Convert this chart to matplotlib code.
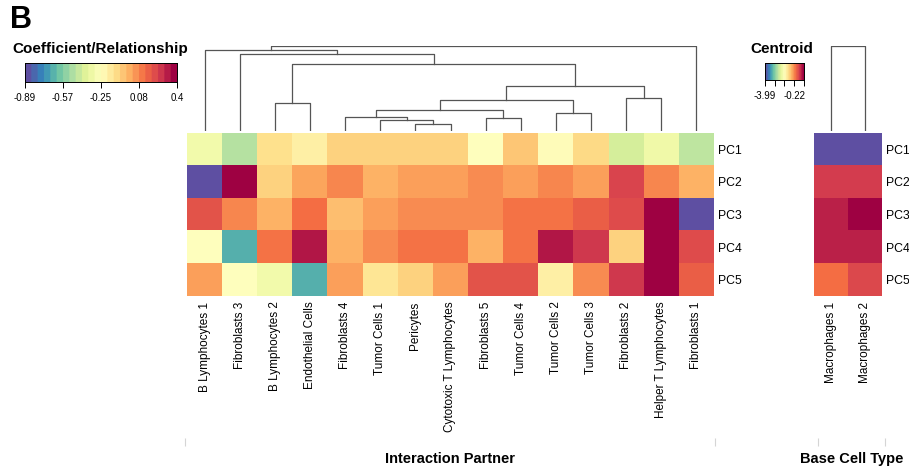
import numpy as np
import matplotlib
matplotlib.use('Agg')
import matplotlib.pyplot as plt

plt.rcParams['font.family'] = ['Liberation Sans', 'DejaVu Sans']

partners = ['B Lymphocytes 1', 'Fibroblasts 3', 'B Lymphocytes 2', 'Endothelial Cells',
            'Fibroblasts 4', 'Tumor Cells 1', 'Pericytes', 'Cytotoxic T Lymphocytes',
            'Fibroblasts 5', 'Tumor Cells 4', 'Tumor Cells 2', 'Tumor Cells 3',
            'Fibroblasts 2', 'Helper T Lymphocytes', 'Fibroblasts 1']
base_types = ['Macrophages 1', 'Macrophages 2']
pcs = ['PC1', 'PC2', 'PC3', 'PC4', 'PC5']

# coefficient per principal component (rows) and interaction partner (columns)
coef = [
    [-0.31, -0.48, -0.12, -0.18, -0.08, -0.08, -0.08, -0.08, -0.24, -0.05, -0.23, -0.10, -0.41, -0.32, -0.46],
    [-0.89, 0.40, -0.08, 0.03, 0.09, 0.00, 0.04, 0.04, 0.08, 0.04, 0.09, 0.04, 0.25, 0.09, 0.00],
    [0.21, 0.09, 0.00, 0.14, -0.03, 0.04, 0.08, 0.08, 0.08, 0.13, 0.13, 0.18, 0.23, 0.40, -0.89],
    [-0.24, -0.67, 0.13, 0.35, 0.00, 0.08, 0.13, 0.13, 0.00, 0.13, 0.35, 0.28, -0.08, 0.40, 0.23],
    [0.04, -0.24, -0.31, -0.67, 0.04, -0.14, -0.08, 0.04, 0.21, 0.21, -0.18, 0.08, 0.28, 0.40, 0.18],
]
coef_min, coef_max = -0.89, 0.40
coef_ticklabels = ['-0.89', '-0.57', '-0.25', '0.08', '0.4']

centroid = [
    [-3.99, -3.99],
    [0.53, 0.53],
    [0.78, 1.04],
    [0.78, 0.78],
    [0.03, 0.43],
]
cent_min, cent_max = -3.99, 1.04
cent_ticklabels = ['-3.99', '', '', '-0.22', '']

# hierarchical clustering of partners: (left node, right node, height)
# leaves are 0..14, merged nodes are numbered from 15 on
merges = [
    (6, 7, 19), (5, 15, 31), (4, 16, 41), (8, 9, 36), (17, 18, 62),
    (10, 11, 52), (19, 20, 91), (12, 13, 96), (21, 22, 133), (2, 3, 82),
    (24, 23, 199), (1, 25, 229), (0, 26, 241), (27, 14, 253),
]
base_merges = [(0, 1, 253)]

W, H = 909, 471
fig = plt.figure(figsize=(W / 100, H / 100), dpi=100)
cmap = plt.get_cmap('Spectral_r')
band_cmap = plt.get_cmap('Spectral_r', 24)


def fax(x0, y0, x1, y1):
    return fig.add_axes([x0 / W, 1 - y1 / H, (x1 - x0) / W, (y1 - y0) / H])


def heatmap(ax, data, vmin, vmax, cols):
    ax.imshow(np.array(data), cmap=cmap, vmin=vmin, vmax=vmax, aspect='auto',
              interpolation='nearest')
    ax.set_xticks(range(len(cols)))
    ax.set_xticklabels(cols, rotation=90, fontsize=8.5)
    ax.set_yticks(range(len(pcs)))
    ax.set_yticklabels(pcs, fontsize=8.8)
    ax.yaxis.tick_right()
    ax.tick_params(axis='x', length=0, pad=4)
    ax.tick_params(axis='y', length=0, pad=3)
    for s in ax.spines.values():
        s.set_visible(False)


def dendrogram(ax, links, n, top):
    xpos = {i: float(i) for i in range(n)}
    ypos = {i: 0.0 for i in range(n)}
    for k, (a, b, h) in enumerate(links):
        xa, xb = xpos[a], xpos[b]
        ax.plot([xa, xa, xb, xb], [ypos[a], h, h, ypos[b]], color='#555555', lw=0.9)
        xpos[n + k] = (xa + xb) / 2
        ypos[n + k] = h
    ax.set_xlim(-0.5, n - 0.5)
    ax.set_ylim(0, top)
    ax.axis('off')


def colorbar(ax, vmin, vmax, labels):
    ax.imshow(np.linspace(vmin, vmax, 240)[None, :], cmap=band_cmap, aspect='auto',
              extent=[vmin, vmax, 0, 1])
    ax.set_xticks(np.linspace(vmin, vmax, len(labels)))
    ax.set_xticklabels(labels, fontsize=7)
    ax.set_yticks([])
    ax.tick_params(axis='x', length=4, width=0.7, pad=4)
    for s in ax.spines.values():
        s.set_linewidth(0.7)


# main heatmap and its dendrogram
ax_main = fax(187, 133, 714, 296)
heatmap(ax_main, coef, coef_min, coef_max, partners)
ax_dend = fax(187, 45.5, 714, 130.5)
dendrogram(ax_dend, merges, len(partners), 253)

# base cell type heatmap and its dendrogram
ax_base = fax(814, 133, 882, 296)
heatmap(ax_base, centroid, cent_min, cent_max, base_types)
ax_bdend = fax(814, 45.5, 882, 130.5)
dendrogram(ax_bdend, base_merges, len(base_types), 253)

# colour keys
ax_cb1 = fax(25, 63, 177, 82)
colorbar(ax_cb1, coef_min, coef_max, coef_ticklabels)
ax_cb2 = fax(765, 63, 804, 80)
colorbar(ax_cb2, cent_min, cent_max, cent_ticklabels)

fig.text(100 / W, 1 - 49 / H, 'Coefficient/Relationship', fontsize=11,
         fontweight='bold', ha='center', va='center')
fig.text(782 / W, 1 - 49 / H, 'Centroid', fontsize=11,
         fontweight='bold', ha='center', va='center')
fig.text(10 / W, 1 - 28 / H, 'B', fontsize=22, fontweight='bold',
         ha='left', va='baseline')

# axis titles with faint end marks underneath the heatmaps
for x0, x1, title in [(185, 715, 'Interaction Partner'), (818, 885, 'Base Cell Type')]:
    a = fax(x0, 437, x1, 437.5)
    a.set_xlim(0, 1)
    a.set_xticks([0, 1])
    a.set_xticklabels([])
    a.set_yticks([])
    a.tick_params(axis='x', length=6, width=0.8, color='#d5d5d5')
    for s in a.spines.values():
        s.set_visible(False)
    fig.text((x0 + x1) / 2 / W, 1 - 459 / H, title, fontsize=10.5,
             fontweight='bold', ha='center', va='center')

fig.savefig('out.png', dpi=100)
